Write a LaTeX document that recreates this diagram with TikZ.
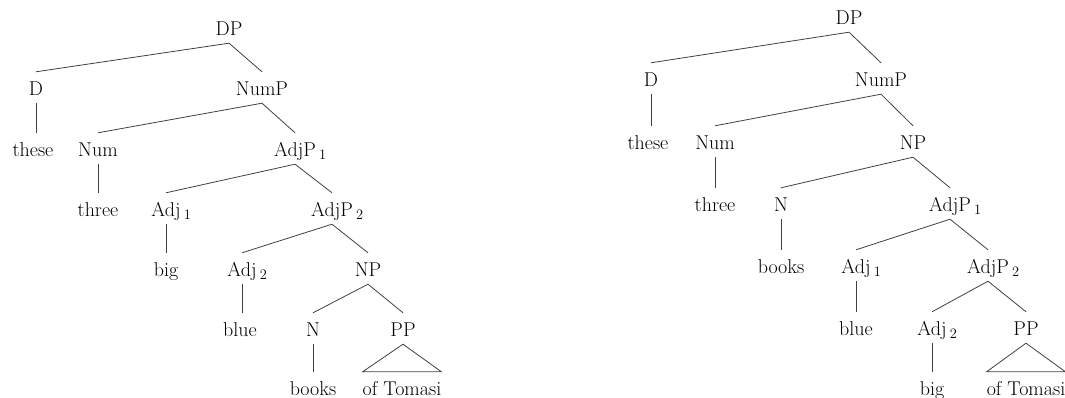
\documentclass[tikz,border=0pt]{standalone}
\begin{document}
\tikzset{
  lab/.style={anchor=base, inner xsep=0pt, inner ysep=3.5pt,
              text height=20pt, text depth=4pt,
              font=\fontsize{20}{24}\selectfont},
  branch/.style={draw=black!75, line width=0.8pt, line join=miter},
}
% index printed to the right of a category without shifting its centre
\newcommand\idx[1]{\rlap{\,$_{#1}$}}
\begin{tikzpicture}[x=1pt, y=-1pt]
\useasboundingbox (0,0) rectangle (1065,398);
\begin{scope}
\clip (0,0) rectangle (1065,398);

% ---------- left tree ----------
\node[lab] (lDP)    at (229,35.5)  {DP};
\node[lab] (lD)     at (36,95.5)   {D};
\node[lab] (lNumP)  at (262,95.5)  {NumP};
\node[lab] (lthese) at (33,156.5)  {these};
\node[lab] (lNum)   at (98,156.5)  {Num};
\node[lab] (lAdjPa) at (295,156.5) {AdjP\idx{1}};
\node[lab] (lthree) at (98,216.5)  {three};
\node[lab] (lAdja)  at (166,216.5) {Adj\idx{1}};
\node[lab] (lAdjPb) at (332,216.5) {AdjP\idx{2}};
\node[lab] (lbig)   at (166,276.5) {big};
\node[lab] (lAdjb)  at (242,276.5) {Adj\idx{2}};
\node[lab] (lNP)    at (368,276.5) {NP};
\node[lab] (lblue)  at (240,336.5) {blue};
\node[lab] (lN)     at (313,336.5) {N};
\node[lab] (lPP)    at (403,336.5) {PP};
\node[lab] (lbooks) at (313,395.5) {books};
\node[lab] (lof)    at (402,395.5) {of Tomasi};

\draw[branch] (lDP.south) -- (lD.north);
\draw[branch] (lDP.south) -- (lNumP.north);
\draw[branch] (lD.south) -- (lD.south |- lthese.north);
\draw[branch] (lNumP.south) -- (lNum.north);
\draw[branch] (lNumP.south) -- (lAdjPa.north);
\draw[branch] (lNum.south) -- (lNum.south |- lthree.north);
\draw[branch] (lAdjPa.south) -- (lAdja.north);
\draw[branch] (lAdjPa.south) -- (lAdjPb.north);
\draw[branch] (lAdja.south) -- (lAdja.south |- lbig.north);
\draw[branch] (lAdjPb.south) -- (lAdjb.north);
\draw[branch] (lAdjPb.south) -- (lNP.north);
\draw[branch] (lAdjb.south) -- (lAdjb.south |- lblue.north);
\draw[branch] (lNP.south) -- (lN.north);
\draw[branch] (lNP.south) -- (lPP.north);
\draw[branch] (lN.south) -- (lN.south |- lbooks.north);
\draw[branch] (lPP.south) -- (lof.north east) -- (lof.north west) -- cycle;

% ---------- right tree ----------
\node[lab] (rDP)    at (849,24.5)  {DP};
\node[lab] (rD)     at (651,86.5)  {D};
\node[lab] (rNumP)  at (881,86.5)  {NumP};
\node[lab] (rthese) at (648,149.5) {these};
\node[lab] (rNum)   at (715,149.5) {Num};
\node[lab] (rNP)    at (913,149.5) {NP};
\node[lab] (rthree) at (715,211.5) {three};
\node[lab] (rN)     at (781,211.5) {N};
\node[lab] (rAdjPa) at (950,211.5) {AdjP\idx{1}};
\node[lab] (rbooks) at (781,273.5) {books};
\node[lab] (rAdja)  at (856,273.5) {Adj\idx{1}};
\node[lab] (rAdjPb) at (988,273.5) {AdjP\idx{2}};
\node[lab] (rblue)  at (856,335.5) {blue};
\node[lab] (rAdjb)  at (932,335.5) {Adj\idx{2}};
\node[lab] (rPP)    at (1026,335.5) {PP};
\node[lab] (rbig)   at (932,395.5) {big};
\node[lab] (rof)    at (1026,395.5) {of Tomasi};

\draw[branch] (rDP.south) -- (rD.north);
\draw[branch] (rDP.south) -- (rNumP.north);
\draw[branch] (rD.south) -- (rD.south |- rthese.north);
\draw[branch] (rNumP.south) -- (rNum.north);
\draw[branch] (rNumP.south) -- (rNP.north);
\draw[branch] (rNum.south) -- (rNum.south |- rthree.north);
\draw[branch] (rNP.south) -- (rN.north);
\draw[branch] (rNP.south) -- (rAdjPa.north);
\draw[branch] (rN.south) -- (rN.south |- rbooks.north);
\draw[branch] (rAdjPa.south) -- (rAdja.north);
\draw[branch] (rAdjPa.south) -- (rAdjPb.north);
\draw[branch] (rAdja.south) -- (rAdja.south |- rblue.north);
\draw[branch] (rAdjPb.south) -- (rAdjb.north);
\draw[branch] (rAdjPb.south) -- (rPP.north);
\draw[branch] (rAdjb.south) -- (rAdjb.south |- rbig.north);
\draw[branch] (rPP.south) -- (rof.north east) -- (rof.north west) -- cycle;
\end{scope}
\end{tikzpicture}
\end{document}
